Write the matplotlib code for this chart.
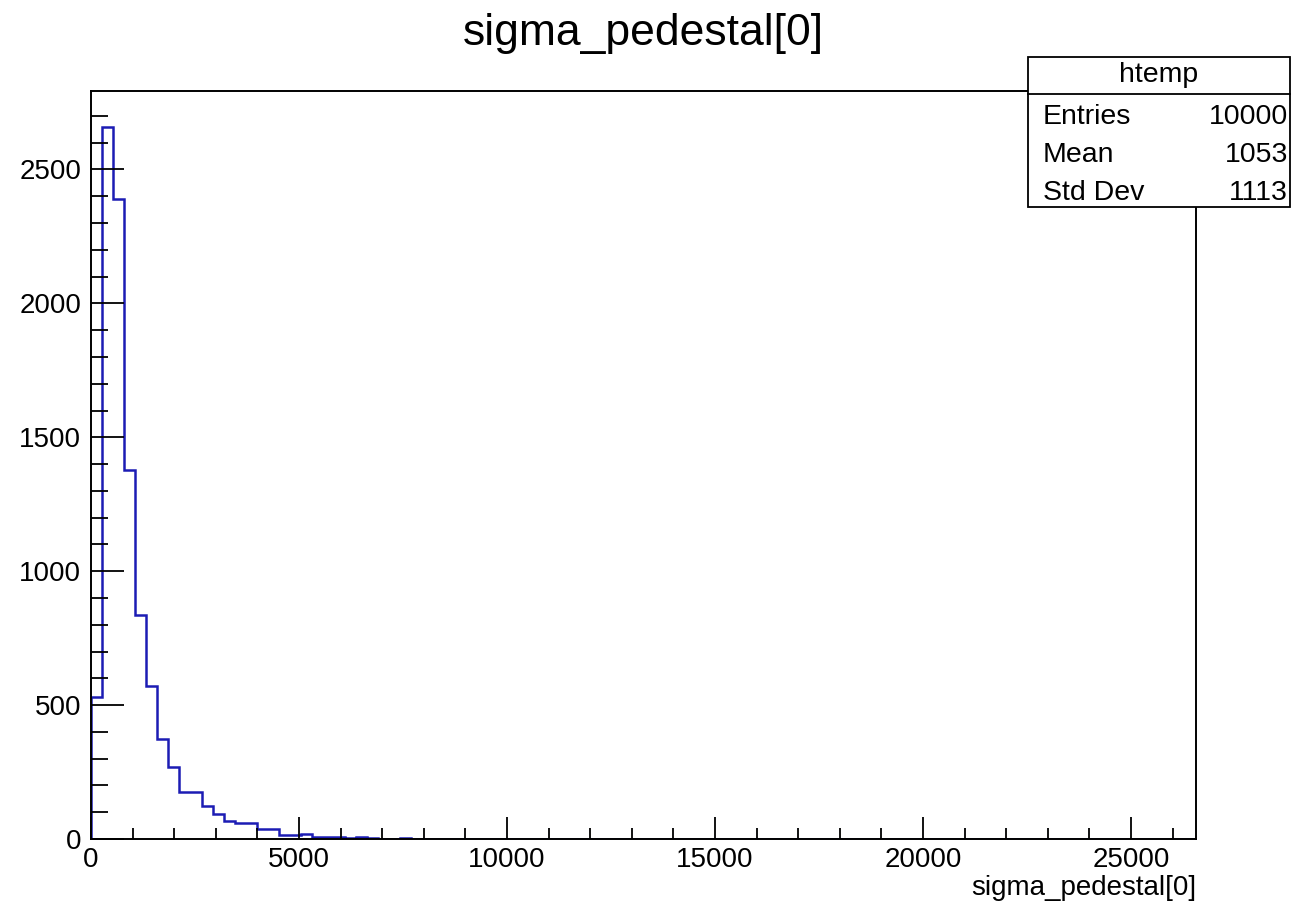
import numpy as np
import matplotlib
matplotlib.use("Agg")
import matplotlib.pyplot as plt
from matplotlib.ticker import MultipleLocator
from matplotlib.patches import Rectangle
from matplotlib.lines import Line2D

plt.rcParams["font.family"] = ["Liberation Sans", "DejaVu Sans"]

# histogram contents (100 bins)
x_min, x_max, n_bins = 0, 26560, 100
counts = [530, 2660, 2388, 1379, 835, 570, 372, 270, 175, 177,
          125, 95, 67, 61, 60, 37, 36, 16, 16, 17,
          7, 6, 6, 5, 6, 5, 0, 0, 4]
counts = counts + [0] * (n_bins - len(counts))

stat_names = ["Entries", "Mean", "Std Dev"]
stat_values = ["10000", "1053", "1113"]
hist_name = "htemp"
var_name = "sigma_pedestal[0]"

W, H = 1292, 908
fig = plt.figure(figsize=(W / 100, H / 100), dpi=100)
ax = fig.add_axes([91 / W, 1 - 839 / H, 1105 / W, 748 / H])

edges = np.linspace(x_min, x_max, n_bins + 1)
ax.stairs(counts, edges, color="#1c1cb4", linewidth=1.8)

ax.set_xlim(x_min, x_max)
ax.set_ylim(0, max(counts) * 1.05)

ax.xaxis.set_major_locator(MultipleLocator(5000))
ax.xaxis.set_minor_locator(MultipleLocator(1000))
ax.yaxis.set_major_locator(MultipleLocator(500))
ax.yaxis.set_minor_locator(MultipleLocator(100))
ax.tick_params(axis="both", which="both", direction="in", top=False, right=False,
               width=1.3, labelsize=20)
ax.tick_params(axis="x", which="major", length=16, pad=6)
ax.tick_params(axis="x", which="minor", length=8)
ax.tick_params(axis="y", which="major", length=24, pad=7)
ax.tick_params(axis="y", which="minor", length=12)
for s in ax.spines.values():
    s.set_linewidth(1.4)

# title and axis label
fig.text(643 / W, 1 - 33 / H, var_name, ha="center", va="center", fontsize=32)
fig.text(1196 / W, 1 - 888 / H, var_name, ha="right", va="center", fontsize=20)

# stats box
bx0, bx1, by0, by1, bsep = 1028, 1290, 57, 207, 94
fig.add_artist(Rectangle((bx0 / W, 1 - by1 / H), (bx1 - bx0) / W, (by1 - by0) / H,
                         transform=fig.transFigure, facecolor="white",
                         edgecolor="black", linewidth=1.3, zorder=5))
fig.add_artist(Line2D([bx0 / W, bx1 / W], [1 - bsep / H, 1 - bsep / H],
                      transform=fig.transFigure, color="black", linewidth=1.3, zorder=6))
fig.text((bx0 + bx1) / 2 / W, 1 - 75 / H, hist_name, ha="center", va="center",
         fontsize=20.5, zorder=7)
for i, (name, val) in enumerate(zip(stat_names, stat_values)):
    y = 1 - (117 + 38 * i) / H
    fig.text(1043 / W, y, name, ha="left", va="center", fontsize=20.5, zorder=7)
    fig.text(1288 / W, y, val, ha="right", va="center", fontsize=20.5, zorder=7)

fig.savefig("out.png", dpi=100)
